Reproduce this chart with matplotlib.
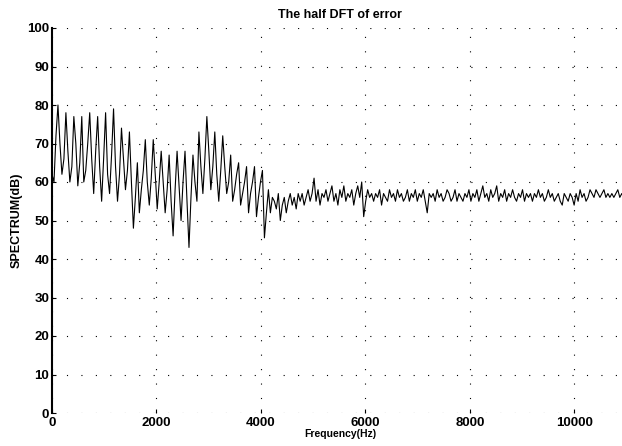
import numpy as np
import matplotlib
matplotlib.use('Agg')
import matplotlib.pyplot as plt

plt.rcParams['font.family'] = ['Liberation Sans', 'DejaVu Sans']

TITLE = 'The half DFT of error'
X_LABEL = 'Frequency(Hz)'
Y_LABEL = 'SPECTRUM(dB)'
X_TICKS = [0, 2000, 4000, 6000, 8000, 10000]
Y_TICKS = [0, 10, 20, 30, 40, 50, 60, 70, 80, 90, 100]

# bin spacing of the half spectrum, Hz
BIN_HZ = 38

# 0 - 4.2 kHz, one value per bin (dB)
low_db = [62, 60, 72, 80, 70, 62, 66, 78, 68, 60,
          64, 77, 70, 59, 65, 77, 60, 63, 70, 78,
          66, 57, 68, 77, 64, 55, 66, 78, 62, 57,
          67, 79, 64, 55, 62, 74, 66, 58, 63, 73,
          60, 48, 56, 65, 52, 58, 63, 71, 60, 54,
          61, 71, 62, 53, 60, 68, 60, 52, 58, 67,
          55, 46, 58, 68, 59, 50, 60, 68, 55, 43,
          56, 67, 60, 55, 73, 64, 57, 66, 77, 68,
          58, 64, 73, 62, 55, 63, 72, 64, 57, 60,
          67, 55, 58, 62, 65, 54, 57, 60, 64, 52,
          57, 60, 64, 51, 56, 60, 63, 45.5, 52, 58,
          52, 56]

# 4.2 - 11 kHz, the flat noisy part (dB)
hi_db = [55, 53, 57, 50, 54, 56, 52, 55, 57, 54,
         56, 53, 57, 55, 57, 54, 56, 58, 55, 57,
         61, 55, 58, 54, 57, 56, 58, 55, 57, 59,
         55, 57, 54, 58, 56, 59, 55, 57, 56, 58,
         54, 57, 59, 56, 60, 51, 55, 58, 56, 57,
         55, 57, 56, 58, 54, 57, 56, 55, 58, 56,
         57, 55, 58, 56, 57, 55, 56, 58, 55, 57,
         56, 58, 55, 57, 56, 58, 55, 52, 57, 56,
         57, 55, 58, 56, 57, 55, 56, 58, 57, 55,
         56, 58, 55, 57, 56, 55, 57, 56, 58, 55,
         57, 56, 58, 55, 57, 59, 56, 57, 55, 58,
         56, 57, 59, 55, 57, 56, 58, 55, 57, 56,
         58, 56, 55, 57, 56, 58, 55, 57, 56, 57,
         55, 57, 56, 58, 56, 57, 55, 56, 58, 56,
         57, 55, 56, 57, 55, 54, 57, 56, 55, 57,
         56, 54, 57, 55, 58, 56, 57, 55, 56, 58,
         57, 56, 58, 57, 56, 57, 58, 56, 57, 56,
         57, 56, 57, 58, 56, 57, 56, 57, 56, 57]

spec = np.array(low_db + hi_db, dtype=float)
freq = np.arange(len(spec)) * BIN_HZ

fig = plt.figure(figsize=(6.22, 4.46), dpi=100)
# axes runs a little past the right edge, like the cropped scan
ax = fig.add_axes([52/622, 33/446, 576/622, 385/446])
ax.plot(freq, spec, color='k', lw=0.8)

ax.set_xlim(0, 11025)
ax.set_ylim(0, 100)
ax.set_xticks(X_TICKS)
ax.set_yticks(Y_TICKS)
ax.tick_params(direction='in', length=3, labelsize=9.5)
ax.tick_params(axis='x', pad=3)
ax.tick_params(axis='y', pad=2)
for lab in ax.get_xticklabels() + ax.get_yticklabels():
    lab.set_fontweight('bold')

for s in ('top', 'right', 'bottom'):
    ax.spines[s].set_visible(False)
ax.spines['left'].set_linewidth(1.5)

ax.grid(True, color='k', lw=0.8, linestyle=(0, (1, 12)))

ax.set_title(TITLE, fontsize=9, fontweight='bold', pad=7)
ax.set_xlabel(X_LABEL, fontsize=7.5, fontweight='bold', labelpad=0)
ax.set_ylabel(Y_LABEL, fontsize=9, fontweight='bold', labelpad=3)

fig.savefig('out.png', dpi=100)
